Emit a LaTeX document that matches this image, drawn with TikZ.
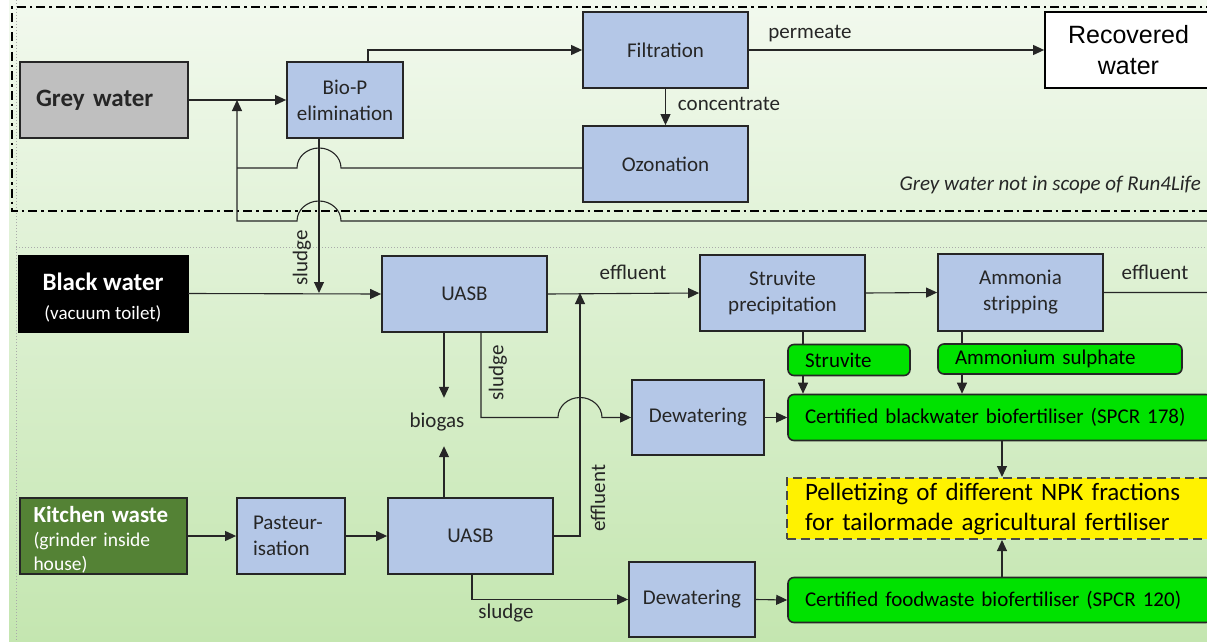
\documentclass[tikz,border=0pt]{standalone}
\usepackage{fontspec}
\setmainfont{Carlito}
\newfontfamily\arialf{Liberation Sans}
\usetikzlibrary{arrows.meta,calc}
\definecolor{boxblue}{RGB}{180,199,231}
\definecolor{greybox}{RGB}{191,191,191}
\definecolor{kgreen}{RGB}{84,130,53}
\definecolor{brgreen}{RGB}{0,226,0}
\definecolor{bgtop}{RGB}{242,249,238}
\definecolor{bgbot}{RGB}{196,230,176}
\definecolor{ink}{RGB}{38,38,38}
\definecolor{dotgrey}{RGB}{170,170,170}
\newcommand\myfs[2]{\fontsize{#1}{#2}\selectfont}
\begin{document}
\begin{tikzpicture}[x=1pt,y=-1pt,
  proc/.style={draw=ink, line width=1.8pt, fill=boxblue, align=center, inner sep=0pt, font=\myfs{21}{26}, text=ink},
  prod/.style={draw=ink, line width=1.6pt, fill=brgreen, rounded corners=6pt, align=left, inner ysep=0pt, font=\myfs{21}{26}, text=black},
  flow/.style={draw=ink, line width=1.1pt, -{Triangle[length=11pt,width=10pt]}},
  plain/.style={draw=ink, line width=1.1pt},
  lbl/.style={font=\myfs{21}{26}, text=ink, inner sep=0pt},
  dashdot/.style={draw=black, line width=2.2pt, dash pattern=on 9pt off 4pt on 2.5pt off 4pt}
]
\useasboundingbox (0,0) rectangle (1207,642);
\clip (0,0) rectangle (1207,642);
% background
\fill[white] (0,0) rectangle (1207,642);
\shade[top color=bgtop, bottom color=bgbot] (9,0) rectangle (1207,642);
\draw[dotgrey, line width=1pt, dotted] (16,0) -- (16,642);
\draw[dotgrey, line width=1pt, dotted] (16,247) -- (1207,247);
\draw[dashdot] (1215,7) -- (12,7) -- (12,211) -- (1215,211);

% grey water section
\node[draw=ink, line width=1.6pt, fill=greybox, minimum height=76pt, text width=136pt, inner xsep=16pt, inner ysep=0pt, align=left, font=\myfs{25}{29}\bfseries, text=ink] (grey) at (104,100) {Grey water};
\node[proc, minimum width=116pt, minimum height=76pt] (bioP) at (345,100) {Bio-P\\elimination};
\node[proc, minimum width=165pt, minimum height=76pt] (filt) at (665.5,50) {Filtration};
\node[proc, minimum width=165pt, minimum height=76pt] (ozon) at (665.5,164) {Ozonation};
\node[draw=black, line width=1.8pt, fill=white, minimum width=167pt, minimum height=76pt, align=center, inner sep=0pt, font=\arialf\myfs{25}{31}, text=black] (recov) at (1128.5,50) {Recovered\\water};
\node[lbl, anchor=east, font=\myfs{21}{26}\itshape] (scope) at (1201,185) {Grey water not in scope of Run4Life};

% black water section
\node[draw=black, fill=black, minimum width=170pt, minimum height=77pt, align=center, inner sep=0pt, text=white, font=\myfs{25}{29}] (black) at (103,293.5) {\rule{0pt}{26pt}{\bfseries Black water}\\{\myfs{19}{29}(vacuum toilet)}};
\node[proc, minimum width=165pt, minimum height=76pt] (uasbA) at (464.5,294) {UASB};
\node[proc, minimum width=165pt, minimum height=76pt] (struvp) at (782.5,293) {Struvite\\precipitation};
\node[proc, minimum width=165pt, minimum height=77pt] (ammon) at (1020.5,292.5) {Ammonia\\stripping};
\node[prod, minimum height=31pt, text width=88pt, inner xsep=17pt] (struv) at (849,360) {Struvite};
\node[prod, minimum height=30pt, text width=210pt, inner xsep=17pt] (ammsul) at (1060,359) {Ammonium sulphate};
\node[proc, minimum width=132pt, minimum height=75pt] (dewA) at (698,417.5) {Dewatering};
\node[prod, minimum height=46pt, text width=390pt, inner xsep=17pt] (certb) at (1000,417.5) {Certified blackwater biofertiliser (SPCR 178)};
\node[lbl, minimum height=48pt] (biogas) at (437,422) {biogas};

% kitchen waste section
\node[draw=ink, line width=1.6pt, fill=kgreen, minimum height=76pt, text width=140pt, inner xsep=13.5pt, inner ysep=0pt, align=left, text=white, font=\myfs{19.5}{24}] (kitchen) at (103.5,536) {\rule{0pt}{24pt}{\myfs{23}{24}\bfseries Kitchen waste}\\(grinder inside\\house)};
\node[proc, minimum height=76pt, text width=76pt, inner xsep=16pt, align=left] (past) at (291,536) {Pasteur-\\isation};
\node[proc, minimum width=165pt, minimum height=76pt] (uasbB) at (470.5,536) {UASB};
\node[proc, minimum width=126pt, minimum height=75pt] (dewB) at (692,599.5) {Dewatering};
\node[prod, minimum height=45pt, text width=390pt, inner xsep=17pt] (certf) at (1000,600) {Certified foodwaste biofertiliser (SPCR 120)};
\node[draw=ink!85, line width=2pt, dash pattern=on 9pt off 5pt, fill=yellow, minimum height=61pt, text width=389pt, inner xsep=18pt, inner ysep=0pt, align=left, font=\myfs{25}{30}, text=black] (pellet) at (999.5,508.5) {Pelletizing of different NPK fractions\\for tailormade agricultural fertiliser};

% junction coordinates
\coordinate (jg) at (237,100);
\coordinate (js) at (319,293);
\coordinate (je) at (580,293);
\coordinate (jh) at (580,417.5);
\coordinate (jo) at (237,168);
\coordinate (jr) at (1214,221);
\coordinate (xs) at (803,0);
\coordinate (xa) at (962,0);
\coordinate (xp) at (1002,0);

% grey water connectors
\draw[flow] (grey.east) -- (bioP.west);
\draw[flow] ($(bioP.north)+(23,0)$) |- (filt.west);
\draw[flow] (filt.east) -- (recov.west);
\draw[flow] (filt.south) -- (ozon.north);
\draw[plain] ($(ozon.west)+(0,4)$) -- (341,168) arc[start angle=0,end angle=180,x radius=22pt,y radius=20pt] -- (jo);
\draw[flow] (ammon.east) -- (ammon.east -| jr) -- (jr) -- (341,221) arc[start angle=0,end angle=180,x radius=22pt,y radius=20pt] -- (237,221) -- (jg);
\draw[flow] (bioP.south -| js) -- (js);

% black water connectors
\draw[flow] (black.east) -- (uasbA.west);
\draw[flow] (uasbA.east) -- (struvp.west);
\draw[flow] (struvp.east) -- (ammon.west);
\draw[flow] ($(uasbA.south)+(-20.5,0)$) coordinate (b1) -- (b1 |- biogas.north);
\draw[flow] ($(uasbA.south)+(16.5,0)$) coordinate (s1) -- (s1 |- jh) -- ($(jh)+(-22,0)$) arc[start angle=180,end angle=0,x radius=22pt,y radius=20pt] -- (dewA.west);
\draw[flow] (dewA.east) -- (certb.west);
\draw[plain] (struvp.south -| xs) -- (struv.north -| xs);
\draw[flow] (struv.south -| xs) -- (certb.north -| xs);
\draw[plain] (ammon.south -| xa) -- (ammsul.north -| xa);
\draw[flow] (ammsul.south -| xa) -- (certb.north -| xa);
\draw[flow] (certb.south -| xp) -- (pellet.north -| xp);

% kitchen connectors
\draw[flow] (kitchen.east) -- (past.west);
\draw[flow] (past.east) -- (uasbB.west);
\draw[flow] ($(uasbB.north)+(-26.5,0)$) coordinate (b2) -- (b2 |- biogas.south);
\draw[flow] (uasbB.east) -- (je |- uasbB.east) -- (je);
\draw[flow] ($(uasbB.south)+(1.5,0)$) |- (dewB.west);
\draw[flow] (dewB.east) -- (certf.west);
\draw[flow] (certf.north -| xp) -- (pellet.south -| xp);

% labels
\node[lbl] (lperm) at (810,34) {permeate};
\node[lbl] (lconc) at (729,104) {concentrate};
\node[lbl, rotate=90] (lsl1) at (302,258) {sludge};
\node[lbl] (leff1) at (633,272) {effluent};
\node[lbl] (leff2) at (1155,272) {effluent};
\node[lbl, rotate=90] (lsl2) at (498,373) {sludge};
\node[lbl, rotate=90] (leff3) at (598,498) {effluent};
\node[lbl] (lsl3) at (506,613) {sludge};
\end{tikzpicture}
\end{document}
